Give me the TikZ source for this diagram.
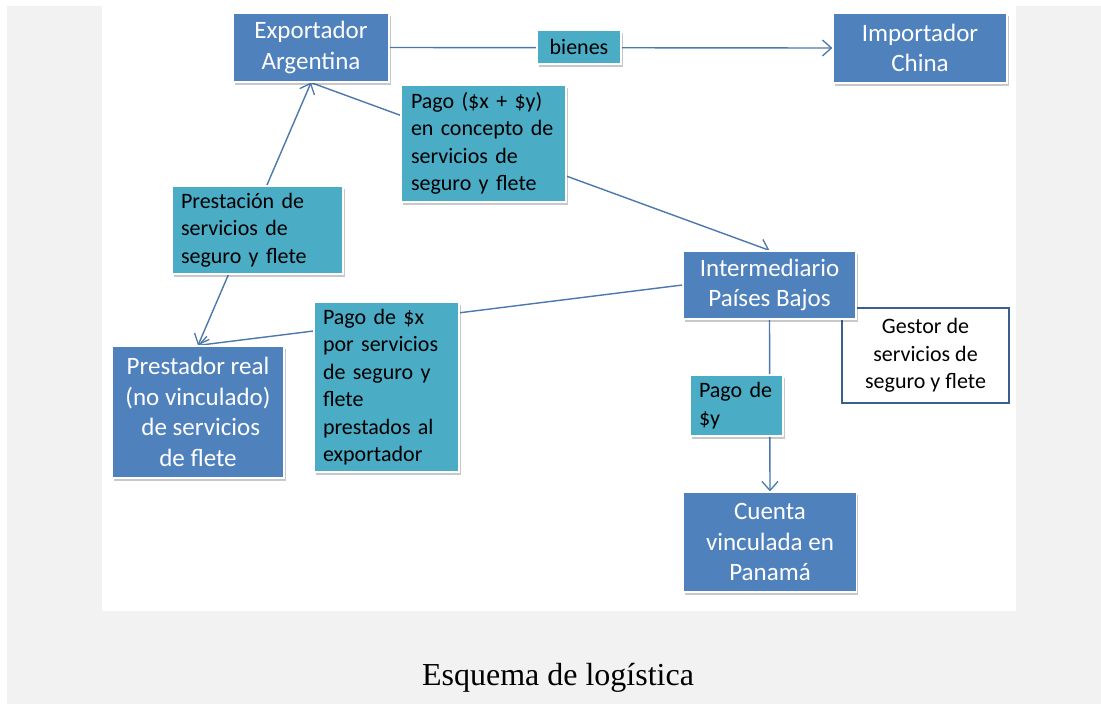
\documentclass[tikz,border=0pt]{standalone}
\usepackage{fontspec}
\setmainfont{Carlito}
\newfontfamily\capfont{Liberation Serif}
\usetikzlibrary{arrows.meta,shadows}
\pgfdeclarelayer{bg}
\pgfdeclarelayer{lines}
\pgfsetlayers{bg,lines,main}
\definecolor{boxblue}{RGB}{79,129,189}
\definecolor{boxteal}{RGB}{75,172,198}
\definecolor{linecol}{RGB}{74,120,175}
\definecolor{framecol}{RGB}{58,95,140}
\definecolor{pagegray}{RGB}{242,242,242}
\tikzset{
  boxbase/.style={rectangle, inner sep=0pt, draw=white, line width=1.2pt,
    drop shadow={shadow xshift=1.5pt, shadow yshift=-2.5pt, opacity=0.3, fill=black!70}},
  bluebox/.style={boxbase, fill=boxblue, text=white, align=center,
    font=\fontsize{25}{30.5}\selectfont},
  tealbox/.style={boxbase, fill=boxteal, text=black, align=left,
    font=\fontsize{22}{27.5}\selectfont},
  gestorbox/.style={rectangle, inner sep=0pt, draw=framecol, line width=2pt, fill=white,
    text=black, align=center, font=\fontsize{22}{27.5}\selectfont},
  conn/.style={draw=linecol, line width=1.4pt},
  tip/.style={-{Straight Barb[length=9pt,width=16pt,line width=1.3pt]}},
  tips/.style={{Straight Barb[length=9pt,width=16pt,line width=1.3pt]}-{Straight Barb[length=9pt,width=16pt,line width=1.3pt]}}
}
\begin{document}
\begin{tikzpicture}[x=1pt,y=-1pt]
\useasboundingbox (0,0) rectangle (1101,704);
\begin{pgfonlayer}{bg}
  \fill[white] (0,0) rectangle (1101,704);
  \fill[pagegray] (7,6) rectangle (1101,704);
  \fill[white] (102,6) rectangle (1016,611);
\end{pgfonlayer}

% main boxes
\node[bluebox, minimum width=156pt, minimum height=69pt] (expo) at (311,47.5) {Exportador\\Argentina};
\node[bluebox, minimum width=174pt, minimum height=70pt] (impo) at (920,48) {Importador\\China};
\node[gestorbox, minimum width=167pt, minimum height=95pt] (gestor) at (925.5,355.5) {Gestor de\\servicios de\\seguro y flete};
\node[bluebox, minimum width=173pt, minimum height=68pt] (inter) at (769.5,285) {Intermediario\\Países Bajos};
\node[bluebox, minimum width=173pt, minimum height=100pt] (cuenta) at (770,542) {Cuenta\\vinculada en\\Panamá};
\node[bluebox, minimum width=172pt, minimum height=132pt] (prest) at (198,412) {Prestador real\\(no vinculado)\\\ de servicios\\de flete};

% label boxes
\node[tealbox, minimum width=84pt, minimum height=34pt, align=center] (bienes) at (579,47) {bienes};
\node[tealbox, minimum width=165pt, minimum height=117pt, text width=145pt, inner xsep=10pt] (pagoxy) at (483.5,143.5) {Pago (\$x + \$y)\\en concepto de\\servicios de\\seguro y flete};
\node[tealbox, minimum width=171pt, minimum height=88pt, text width=153pt, inner xsep=9pt] (prestacion) at (257.5,230) {Prestación de\\servicios de\\seguro y flete};
\node[tealbox, minimum width=145pt, minimum height=170pt, text width=127pt, inner xsep=9pt] (pagox) at (386.5,387) {Pago de \$x\\por servicios\\de seguro y\\flete\\prestados al\\exportador};
\node[tealbox, minimum width=93pt, minimum height=61pt, text width=75pt, inner xsep=9pt] (pagoy) at (736.5,405.5) {Pago de\\\$y};

% connectors
\begin{pgfonlayer}{lines}
  \draw[conn, tip] (expo.east) -- (impo.west);
  \draw[conn, tips] (prest.north) -- (expo.south);
  \draw[conn, tip] (expo.south) -- (inter.north);
  \draw[conn, tip] (inter.west) -- (prest.north);
  \draw[conn, tip] (inter.south) -- (cuenta.north);
\end{pgfonlayer}

% caption
\node[font=\capfont\fontsize{32}{38}\selectfont, anchor=base] (caption) at (558,685) {Esquema de logística};
\end{tikzpicture}
\end{document}
